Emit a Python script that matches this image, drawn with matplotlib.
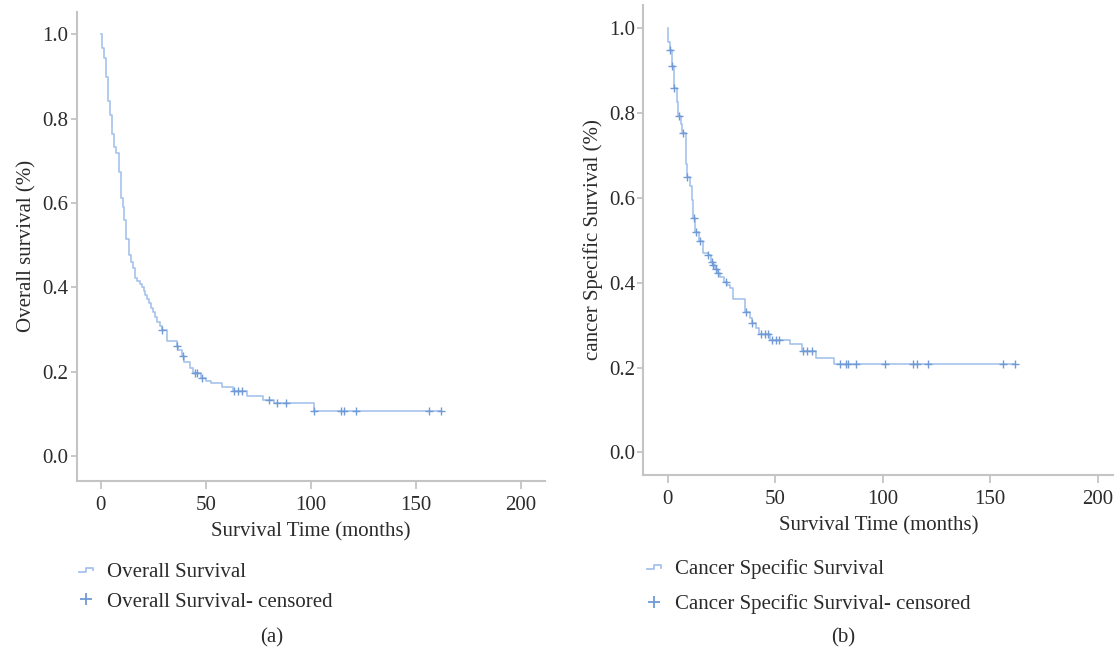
import numpy as np
import matplotlib
matplotlib.use("Agg")
import matplotlib.pyplot as plt
from matplotlib.lines import Line2D
from matplotlib.legend_handler import HandlerBase

plt.rcParams['font.family'] = ['Liberation Serif', 'DejaVu Serif']

# --- overall survival (panel a) ---
os_time = [0, 0.8, 1.5, 2.5, 3.5, 4.6, 5.5, 6.4, 7.4, 8.7, 9.5, 10.5, 11.2, 12.2,
           13.4, 14.4, 15.3, 16.2, 17.5, 18.5, 19.5, 20.5, 21.3, 22.2, 23.0, 24.0,
           25.0, 26.0, 27.0, 28.0, 29.0, 31.4, 36.1, 37.0, 38.5, 39.5, 42.4, 44.0,
           47.5, 50.0, 52.3, 57.5, 63.0, 69.4, 77.2, 82.3, 101.3, 162.2]
os_surv = [1.0, 0.967, 0.943, 0.898, 0.841, 0.808, 0.763, 0.733, 0.719, 0.674, 0.611,
           0.591, 0.559, 0.514, 0.476, 0.460, 0.445, 0.422, 0.415, 0.408, 0.400, 0.392,
           0.383, 0.372, 0.362, 0.352, 0.342, 0.330, 0.318, 0.309, 0.299, 0.273, 0.262,
           0.251, 0.238, 0.224, 0.208, 0.196, 0.186, 0.179, 0.172, 0.163, 0.155, 0.143,
           0.134, 0.125, 0.107, 0.107]
os_cens = [29.3, 36.4, 39.2, 45.0, 46.0, 48.0, 63.3, 65.3, 67.2, 79.9, 83.9, 88.2,
           101.3, 114.5, 116.0, 121.4, 156.4, 162.2]

# --- cancer specific survival (panel b) ---
css_time = [0, 0.3, 0.9, 1.9, 2.7, 4.2, 4.9, 6.3, 6.8, 8.4, 8.6, 8.9, 10.4, 11.4, 11.7,
            11.9, 12.8, 14.6, 16.3, 18.5, 20.2, 21.0, 22.0, 23.2, 24.5, 26.0, 27.5, 29.0,
            30.5, 36.0, 38.3, 39.0, 41.0, 42.5, 47.5, 56.9, 62.3, 69.0, 77.5, 161.5]
css_surv = [1.0, 0.968, 0.949, 0.911, 0.859, 0.827, 0.793, 0.775, 0.754, 0.709, 0.680,
            0.649, 0.629, 0.595, 0.575, 0.553, 0.519, 0.499, 0.470, 0.466, 0.450, 0.442,
            0.432, 0.422, 0.413, 0.403, 0.395, 0.387, 0.361, 0.332, 0.316, 0.306, 0.293,
            0.279, 0.265, 0.255, 0.240, 0.2235, 0.208, 0.208]
css_cens = [1.1, 2.2, 2.9, 5.3, 7.0, 9.1, 12.1, 13.0, 15.0, 18.9, 20.5, 21.2, 22.3, 23.5,
            27.0, 36.3, 39.0, 43.4, 45.3, 46.5, 48.4, 50.2, 51.9, 63.1, 64.9, 67.0, 80.1,
            82.8, 83.7, 87.6, 101.0, 114.0, 115.8, 120.9, 155.8, 161.5]

x_ticks = [0, 50, 100, 150, 200]
y_ticks = [0.0, 0.2, 0.4, 0.6, 0.8, 1.0]

LINE_C = '#a6c3ec'
CENS_C = '#6f9ad6'
SPINE_C = '#c4c4c4'
TEXT_C = '#2b2b2b'
FS = 15


class HandlerStep(HandlerBase):
    # small step icon like the one used by SPSS legends
    def create_artists(self, legend, orig_handle, xdescent, ydescent, width, height, fontsize, trans):
        x0 = -xdescent
        lo = -ydescent + height * 0.32
        hi = -ydescent + height * 0.62
        xs = [x0 + width * 0.1, x0 + width * 0.5, x0 + width * 0.5, x0 + width * 0.85, x0 + width * 0.85]
        ys = [lo, lo, hi, hi, lo + height * 0.1]
        ln = Line2D(xs, ys, color=LINE_C, lw=1.3, transform=trans)
        return [ln]


def censor_y(t_steps, s_steps, tc):
    idx = np.searchsorted(t_steps, tc, side='right') - 1
    return np.asarray(s_steps)[idx]


def km_panel(ax, t, s, cens, ylabel, xlim, ylim, name):
    ax.step(t, s, where='post', color=LINE_C, lw=1.2)
    ax.plot(cens, censor_y(t, s, cens), linestyle='none', marker='+',
            ms=5.5, mew=1.0, color=CENS_C)
    ax.set_xlim(*xlim)
    ax.set_ylim(*ylim)
    ax.set_xticks(x_ticks)
    ax.set_yticks(y_ticks)
    ax.set_yticklabels([f"{v:.1f}" for v in y_ticks])
    for sp in ['top', 'right']:
        ax.spines[sp].set_visible(False)
    for sp in ['left', 'bottom']:
        ax.spines[sp].set_color(SPINE_C)
        ax.spines[sp].set_linewidth(1.5)
    ax.tick_params(colors=SPINE_C, labelcolor=TEXT_C, width=1.3, labelsize=FS)
    ax.tick_params(axis='x', length=6, pad=5)
    ax.tick_params(axis='y', length=4, pad=2)
    ax.set_xlabel("Survival Time (months)", fontsize=FS, color=TEXT_C, labelpad=5)
    ax.set_ylabel(ylabel, fontsize=FS, color=TEXT_C, labelpad=4)
    h1 = Line2D([], [], color=LINE_C)
    h2 = Line2D([], [], linestyle='none', marker='+', ms=9, mew=1.3, color=CENS_C)
    return [h1, h2], [name, name + "- censored"]


fig = plt.figure(figsize=(11.14, 6.52), dpi=100)
ax1 = fig.add_axes([0.0689, 0.2627, 0.4204, 0.7189])
ax2 = fig.add_axes([0.5775, 0.2715, 0.4225, 0.7209])

hs, ls = km_panel(ax1, os_time, os_surv, os_cens, "Overall survival (%)",
                  (-11.4, 211.5), (-0.0586, 1.053), "Overall Survival")
fig.legend(hs, ls, loc='upper left', bbox_to_anchor=(0.069, 0.138), frameon=False,
           fontsize=FS, handlelength=0.9, handletextpad=0.55, labelspacing=0.5,
           borderpad=0, borderaxespad=0, labelcolor=TEXT_C,
           handler_map={hs[0]: HandlerStep()})

hs, ls = km_panel(ax2, css_time, css_surv, css_cens, "cancer Specific Survival (%)",
                  (-11.35, 207.6), (-0.053, 1.055), "Cancer Specific Survival")
fig.legend(hs, ls, loc='upper left', bbox_to_anchor=(0.579, 0.143), frameon=False,
           fontsize=FS, handlelength=0.9, handletextpad=0.55, labelspacing=0.75,
           borderpad=0, borderaxespad=0, labelcolor=TEXT_C,
           handler_map={hs[0]: HandlerStep()})

fig.text(272 / 1114, 1 - 638 / 652, "(a)", ha='center', va='center', fontsize=FS, color=TEXT_C)
fig.text(843 / 1114, 1 - 638 / 652, "(b)", ha='center', va='center', fontsize=FS, color=TEXT_C)

fig.savefig("out.png", dpi=100)
